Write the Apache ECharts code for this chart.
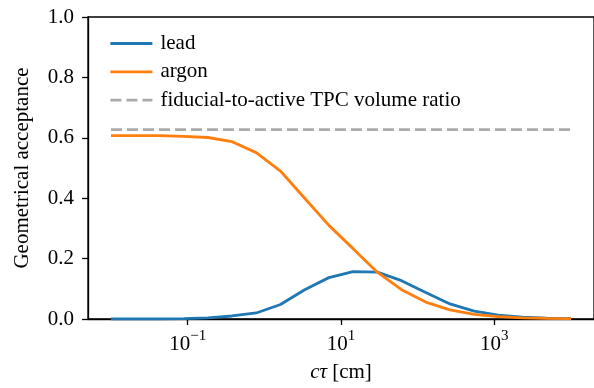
<!DOCTYPE html>
<html>
<head>
<meta charset="utf-8">
<script src="https://cdn.jsdelivr.net/npm/echarts@6/dist/echarts.min.js"></script>
<style>
html,body{margin:0;padding:0;background:#fff;}
#chart{width:594px;height:388px;}
</style>
</head>
<body>
<div id="chart"></div>
<script>
// c*tau values [cm]
var ctau = [0.01, 0.02069, 0.04281, 0.08859, 0.1833, 0.3793, 0.7848, 1.624, 3.360, 6.952,
            14.38, 29.76, 61.58, 127.4, 263.7, 545.6, 1129, 2336, 4833, 10000];
var lead = [0.000, 0.000, 0.000, 0.001, 0.004, 0.010, 0.020, 0.048, 0.097, 0.137,
            0.157, 0.155, 0.127, 0.088, 0.050, 0.026, 0.013, 0.006, 0.003, 0.001];
var argon = [0.607, 0.607, 0.607, 0.605, 0.601, 0.587, 0.551, 0.490, 0.400, 0.310,
             0.233, 0.155, 0.097, 0.056, 0.030, 0.015, 0.008, 0.004, 0.002, 0.001];
var fiducialX = [0.01, 10000];
var fiducialY = [0.627, 0.627];
var xTicks = [0.1, 10, 1000];
var seriesNames = ['lead', 'argon', 'fiducial-to-active TPC volume ratio'];

function pairs(xs, ys) { return xs.map(function (x, i) { return [x, ys[i]]; }); }

var FONT = 'Liberation Serif';
var FS = 21;
var chart = echarts.init(document.getElementById('chart'), null, {renderer: 'canvas'});
chart.setOption({
  backgroundColor: '#fff',
  animation: false,
  textStyle: {fontFamily: FONT, color: '#000'},
  grid: {left: 88, top: 17, right: -1, bottom: 67, show: true, borderColor: '#000', borderWidth: 1.3, backgroundColor: 'transparent'},
  legend: {
    orient: 'vertical', left: 104, top: 28,
    itemWidth: 42, itemHeight: 14, itemGap: 7.3,
    itemStyle: {color: 'transparent', borderWidth: 0, opacity: 0},
    lineStyle: {width: 2.8},
    textStyle: {fontFamily: FONT, fontSize: FS, color: '#000', padding: [0, 0, 0, 3]},
    data: seriesNames
  },
  xAxis: {
    type: 'log', logBase: 10,
    min: 0.005012, max: 19953,
    name: '{it|cτ} [cm]', nameLocation: 'middle', nameGap: 43,
    nameTextStyle: {fontFamily: FONT, fontSize: FS, color: '#000', rich: {it: {fontFamily: FONT, fontStyle: 'italic', fontSize: FS, color: '#000'}}},
    axisLine: {show: true, lineStyle: {color: '#000', width: 1.3}},
    axisTick: {show: true, length: 6, lineStyle: {color: '#000', width: 1.3}, customValues: xTicks},
    splitLine: {show: false},
    minorTick: {show: false},
    axisLabel: {
      customValues: xTicks, margin: 10,
      formatter: function (v) {
        var n = Math.round(Math.log10(v));
        return '{b|10}{s|' + (n < 0 ? '\u2212' : '') + Math.abs(n) + '}';
      },
      rich: {
        b: {fontFamily: FONT, fontSize: FS, color: '#000', lineHeight: 26, verticalAlign: 'bottom'},
        s: {fontFamily: FONT, fontSize: 15, color: '#000', lineHeight: 16, verticalAlign: 'top'}
      }
    }
  },
  yAxis: {
    type: 'value', min: 0, max: 1, interval: 0.2,
    name: 'Geometrical acceptance', nameLocation: 'middle', nameGap: 55,
    nameTextStyle: {fontFamily: FONT, fontSize: FS, color: '#000'},
    axisLine: {show: true, lineStyle: {color: '#000', width: 1.3}},
    axisTick: {show: true, length: 6, lineStyle: {color: '#000', width: 1.3}},
    splitLine: {show: false},
    axisLabel: {fontFamily: FONT, fontSize: FS, color: '#000', margin: 14,
      formatter: function (v) { return v.toFixed(1); }}
  },
  series: [
    {name: seriesNames[0], type: 'line', data: pairs(ctau, lead), symbol: 'none', color: '#1f77b4',
     lineStyle: {width: 2.8, color: '#1f77b4'}, z: 2},
    {name: seriesNames[1], type: 'line', data: pairs(ctau, argon), symbol: 'none', color: '#ff7f0e',
     lineStyle: {width: 2.8, color: '#ff7f0e'}, z: 3},
    {name: seriesNames[2], type: 'line', data: pairs(fiducialX, fiducialY), symbol: 'none', color: '#aaaaaa',
     lineStyle: {width: 2.8, color: '#aaaaaa', type: [11, 5]}, z: 1}
  ]
});
</script>
</body>
</html>
